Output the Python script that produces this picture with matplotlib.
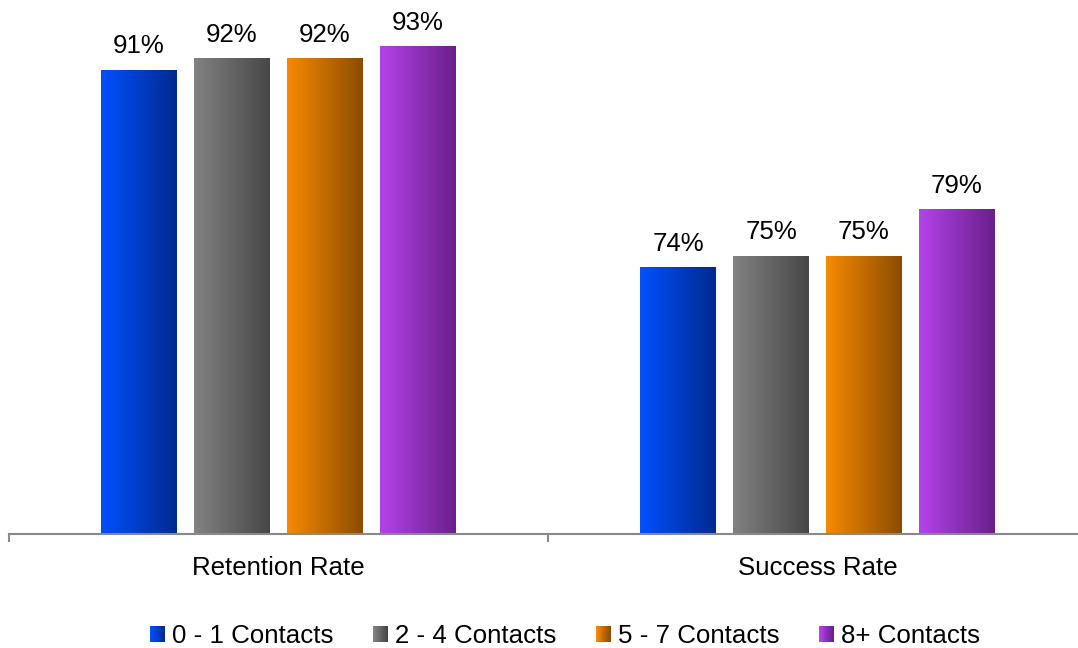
import numpy as np
import matplotlib
matplotlib.use("Agg")
import matplotlib.pyplot as plt
from matplotlib.colors import LinearSegmentedColormap, to_rgb
from matplotlib.legend_handler import HandlerBase
from matplotlib.patches import Rectangle

plt.rcParams["font.family"] = ["Liberation Sans", "DejaVu Sans"]

# Data
categories = ["Retention Rate", "Success Rate"]
series_names = ["0 - 1 Contacts", "2 - 4 Contacts", "5 - 7 Contacts", "8+ Contacts"]
contacts_0_1 = [91, 74]
contacts_2_4 = [92, 75]
contacts_5_7 = [92, 75]
contacts_8_plus = [93, 79]
series_values = [contacts_0_1, contacts_2_4, contacts_5_7, contacts_8_plus]

# Left-to-right gradient colours for each series (light -> dark)
gradients = [
    ("#0050ff", "#002a8f"),
    ("#828282", "#474747"),
    ("#f78a00", "#8c4c00"),
    ("#b443ea", "#691f8a"),
]

FS = 18.6
AXIS_GRAY = "#898989"

fig = plt.figure(figsize=(10.78, 6.48), dpi=100)
ax = fig.add_axes([9 / 1078, 114 / 648, 1.0, 534 / 648])

x = np.arange(len(categories))
step = 0.1725
width = 0.141
offsets = (np.arange(len(series_names)) - (len(series_names) - 1) / 2) * step

containers = []
for i, (name, vals) in enumerate(zip(series_names, series_values)):
    bars = ax.bar(x + offsets[i], vals, width, label=name,
                  facecolor="none", edgecolor="none")
    containers.append(bars)
    cmap = LinearSegmentedColormap.from_list(f"g{i}", gradients[i])
    grad = np.linspace(0, 1, 256).reshape(1, -1)
    for rect, v in zip(bars, vals):
        x0, y0 = rect.get_xy()
        w, h = rect.get_width(), rect.get_height()
        ax.imshow(grad, cmap=cmap, extent=[x0, x0 + w, y0, y0 + h],
                  aspect="auto", zorder=2, interpolation="bilinear")
        ax.annotate(f"{v}%", xy=(x0 + w / 2, y0 + h), xytext=(0, 12.2),
                    textcoords="offset points", ha="center", va="baseline",
                    fontsize=FS, color="black")

ax.set_xlim(-0.5, 1.5)
ax.set_ylim(51.07, 97.04)

# Axis styling: only a gray baseline with ticks at category boundaries
for side in ["left", "right", "top"]:
    ax.spines[side].set_visible(False)
ax.spines["bottom"].set_color(AXIS_GRAY)
ax.spines["bottom"].set_linewidth(1.5)
ax.set_yticks([])
ax.set_xticks(x)
ax.set_xticklabels(categories, fontsize=FS)
ax.tick_params(axis="x", which="major", length=0, pad=15.5)
ax.set_xticks([-0.5, 0.5, 1.5], minor=True)
ax.tick_params(axis="x", which="minor", length=6, width=1.5,
               color=AXIS_GRAY, direction="out")
ax.patch.set_visible(False)


class GradientSquare(HandlerBase):
    def __init__(self, c0, c1, n=16):
        super().__init__()
        self.c0 = np.array(to_rgb(c0))
        self.c1 = np.array(to_rgb(c1))
        self.n = n

    def create_artists(self, legend, orig_handle, xdescent, ydescent,
                       width, height, fontsize, trans):
        arts = []
        for k in range(self.n):
            t = k / (self.n - 1)
            col = self.c0 * (1 - t) + self.c1 * t
            r = Rectangle((-xdescent + k * width / self.n, -ydescent),
                          width / self.n * 1.05, height,
                          facecolor=col, edgecolor="none", transform=trans)
            arts.append(r)
        return arts


handler_map = {c: GradientSquare(*g) for c, g in zip(containers, gradients)}
fig.legend(containers, series_names, loc="center",
           bbox_to_anchor=(565 / 1078, 1 - 636 / 648), ncol=4,
           frameon=False, fontsize=FS, handlelength=0.56, handleheight=0.56,
           handletextpad=0.27, columnspacing=1.55, handler_map=handler_map)

fig.savefig("out.png", dpi=100)
